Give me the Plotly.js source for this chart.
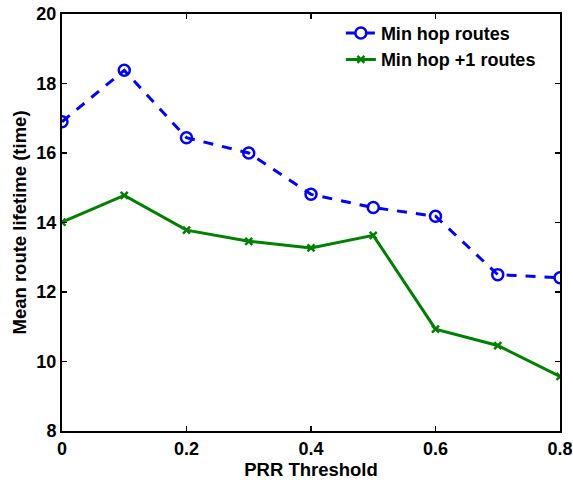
<!DOCTYPE html>
<html>
<head>
<meta charset="utf-8">
<script src="https://cdn.plot.ly/plotly-3.0.1.min.js"></script>
<style>html,body{margin:0;padding:0;background:#fff;}#chart{width:573px;height:480px;}</style>
</head>
<body>
<div id="chart"></div>
<script>
const prrThreshold = [0, 0.1, 0.2, 0.3, 0.4, 0.5, 0.6, 0.7, 0.8];
const minHopRoutes = [16.90, 18.38, 16.44, 16.00, 14.81, 14.43, 14.18, 12.50, 12.41];
const minHopPlus1Routes = [14.01, 14.78, 13.78, 13.46, 13.27, 13.63, 10.93, 10.46, 9.57];
const xTickVals = [0, 0.2, 0.4, 0.6, 0.8];
const xTickText = ['0', '0.2', '0.4', '0.6', '0.8'];
const yTickVals = [8, 10, 12, 14, 16, 18, 20];

const fontFam = 'Liberation Sans, Arial, sans-serif';

const traces = [
  {
    x: prrThreshold, y: minHopRoutes, name: 'Min hop routes',
    mode: 'lines+markers', type: 'scatter',
    line: {color: '#0000ff', width: 3, dash: '10px,9px'},
    marker: {symbol: 'circle-open', size: 11, color: '#0000ff', line: {width: 2.5, color: '#0000ff'}}
  },
  {
    x: prrThreshold, y: minHopPlus1Routes, name: 'Min hop +1 routes',
    mode: 'lines+markers', type: 'scatter',
    line: {color: '#008000', width: 3},
    marker: {symbol: 'x-thin-open', size: 7, color: '#008000', line: {width: 2.5, color: '#008000'}}
  }
];

const axisCommon = {
  showgrid: false, zeroline: false,
  showline: true, linecolor: '#000', linewidth: 2, mirror: 'ticks',
  ticks: 'inside', ticklen: 5, tickwidth: 1.5, tickcolor: '#000',
  tickfont: {family: fontFam, size: 18, color: '#000', weight: 'bold'}
};

const layout = {
  width: 573, height: 480,
  margin: {l: 62, r: 13, t: 14, b: 49},
  paper_bgcolor: '#fff', plot_bgcolor: '#fff',
  showlegend: true,
  font: {family: fontFam, color: '#000'},
  xaxis: Object.assign({}, axisCommon, {
    range: [0, 0.8], tickvals: xTickVals, ticktext: xTickText,
    title: {text: '<b>PRR Threshold</b>', font: {family: fontFam, size: 18.5, color: '#000'}, standoff: 1}
  }),
  yaxis: Object.assign({}, axisCommon, {
    range: [8, 20], tickvals: yTickVals,
    title: {text: '<b>Mean route lifetime (time)</b>', font: {family: fontFam, size: 18.5, color: '#000'}, standoff: 5}
  }),
  legend: {
    x: 0.56, y: 0.998, xanchor: 'left', yanchor: 'top',
    bgcolor: 'rgba(255,255,255,0)', borderwidth: 0,
    font: {family: fontFam, size: 18, color: '#000', weight: 'bold'},
    itemwidth: 30, tracegroupgap: 0
  }
};

Plotly.newPlot('chart', traces, layout, {displayModeBar: false, staticPlot: true});
</script>
</body>
</html>
